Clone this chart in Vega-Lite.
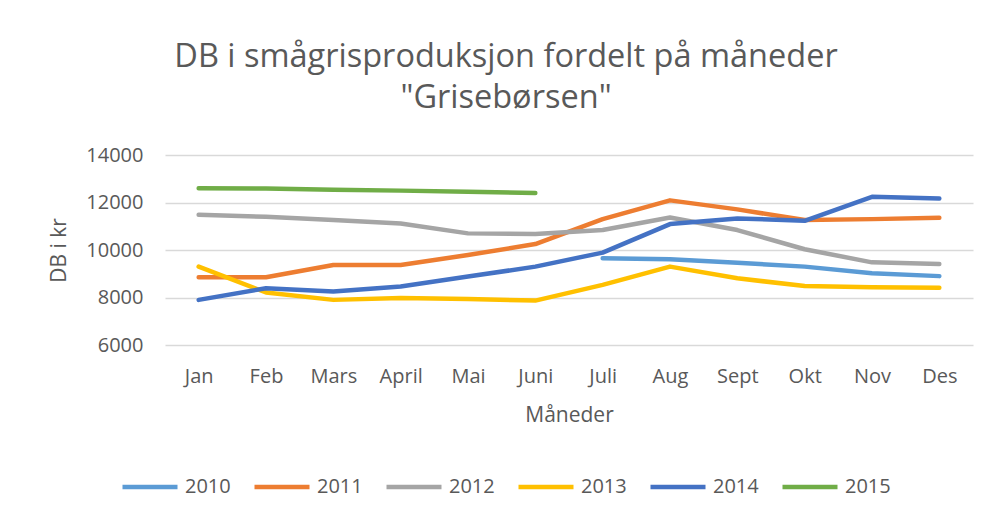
{
  "$schema": "https://vega.github.io/schema/vega-lite/v6.json",
  "autosize": {"type": "none"},
  "width": 808,
  "height": 190,
  "padding": {"left": 165, "top": 155, "right": 18, "bottom": 172},
  "background": "white",
  "config": {
    "font": "Open Sans",
    "view": {"stroke": null}
  },
  "title": {
    "text": ["DB i smågrisproduksjon fordelt på måneder", "\"Grisebørsen\""],
    "fontSize": 32.5,
    "font": "Open Sans",
    "fontWeight": "normal",
    "color": "#595959",
    "anchor": "middle",
    "dx": -63,
    "offset": 31,
    "lineHeight": 41
  },
  "data": {
    "values": [
      {"month": "Juli", "year": "2010", "value": 9650},
      {"month": "Aug", "year": "2010", "value": 9610},
      {"month": "Sept", "year": "2010", "value": 9460},
      {"month": "Okt", "year": "2010", "value": 9300},
      {"month": "Nov", "year": "2010", "value": 9020},
      {"month": "Des", "year": "2010", "value": 8900},

      {"month": "Jan", "year": "2011", "value": 8850},
      {"month": "Feb", "year": "2011", "value": 8850},
      {"month": "Mars", "year": "2011", "value": 9370},
      {"month": "April", "year": "2011", "value": 9370},
      {"month": "Mai", "year": "2011", "value": 9790},
      {"month": "Juni", "year": "2011", "value": 10250},
      {"month": "Juli", "year": "2011", "value": 11300},
      {"month": "Aug", "year": "2011", "value": 12090},
      {"month": "Sept", "year": "2011", "value": 11710},
      {"month": "Okt", "year": "2011", "value": 11260},
      {"month": "Nov", "year": "2011", "value": 11300},
      {"month": "Des", "year": "2011", "value": 11360},

      {"month": "Jan", "year": "2012", "value": 11480},
      {"month": "Feb", "year": "2012", "value": 11400},
      {"month": "Mars", "year": "2012", "value": 11260},
      {"month": "April", "year": "2012", "value": 11120},
      {"month": "Mai", "year": "2012", "value": 10700},
      {"month": "Juni", "year": "2012", "value": 10670},
      {"month": "Juli", "year": "2012", "value": 10840},
      {"month": "Aug", "year": "2012", "value": 11370},
      {"month": "Sept", "year": "2012", "value": 10840},
      {"month": "Okt", "year": "2012", "value": 10030},
      {"month": "Nov", "year": "2012", "value": 9480},
      {"month": "Des", "year": "2012", "value": 9410},

      {"month": "Jan", "year": "2013", "value": 9300},
      {"month": "Feb", "year": "2013", "value": 8210},
      {"month": "Mars", "year": "2013", "value": 7900},
      {"month": "April", "year": "2013", "value": 7980},
      {"month": "Mai", "year": "2013", "value": 7940},
      {"month": "Juni", "year": "2013", "value": 7870},
      {"month": "Juli", "year": "2013", "value": 8530},
      {"month": "Aug", "year": "2013", "value": 9300},
      {"month": "Sept", "year": "2013", "value": 8810},
      {"month": "Okt", "year": "2013", "value": 8480},
      {"month": "Nov", "year": "2013", "value": 8430},
      {"month": "Des", "year": "2013", "value": 8410},

      {"month": "Jan", "year": "2014", "value": 7900},
      {"month": "Feb", "year": "2014", "value": 8390},
      {"month": "Mars", "year": "2014", "value": 8250},
      {"month": "April", "year": "2014", "value": 8460},
      {"month": "Mai", "year": "2014", "value": 8880},
      {"month": "Juni", "year": "2014", "value": 9300},
      {"month": "Juli", "year": "2014", "value": 9890},
      {"month": "Aug", "year": "2014", "value": 11090},
      {"month": "Sept", "year": "2014", "value": 11330},
      {"month": "Okt", "year": "2014", "value": 11230},
      {"month": "Nov", "year": "2014", "value": 12240},
      {"month": "Des", "year": "2014", "value": 12170},

      {"month": "Jan", "year": "2015", "value": 12600},
      {"month": "Feb", "year": "2015", "value": 12590},
      {"month": "Mars", "year": "2015", "value": 12540},
      {"month": "April", "year": "2015", "value": 12500},
      {"month": "Mai", "year": "2015", "value": 12450},
      {"month": "Juni", "year": "2015", "value": 12400}
    ]
  },
  "mark": {"type": "line", "strokeWidth": 4.5, "strokeCap": "round", "strokeJoin": "round"},
  "encoding": {
    "x": {
      "field": "month",
      "type": "ordinal",
      "sort": ["Jan", "Feb", "Mars", "April", "Mai", "Juni", "Juli", "Aug", "Sept", "Okt", "Nov", "Des"],
      "scale": {"type": "point", "padding": 0.5},
      "axis": {
        "title": "Måneder",
        "titleFont": "Open Sans",
        "titleFontSize": 21,
        "titleFontWeight": "normal",
        "titleColor": "#595959",
        "titlePadding": 18,
        "labelFont": "Open Sans",
        "labelFontSize": 20,
        "labelColor": "#595959",
        "labelAngle": 0,
        "labelPadding": 21,
        "domain": false,
        "ticks": false,
        "grid": false
      }
    },
    "y": {
      "field": "value",
      "type": "quantitative",
      "scale": {"domain": [6000, 14000], "nice": false, "zero": false},
      "axis": {
        "title": "DB i kr",
        "titleFont": "Open Sans",
        "titleFontSize": 21,
        "titleFontWeight": "normal",
        "titleColor": "#595959",
        "titlePadding": 16,
        "values": [6000, 8000, 10000, 12000, 14000],
        "format": "d",
        "labelFont": "Open Sans",
        "labelFontSize": 20,
        "labelColor": "#595959",
        "labelPadding": 22,
        "domain": false,
        "ticks": false,
        "grid": true,
        "gridColor": "#d9d9d9",
        "gridWidth": 1.3
      }
    },
    "color": {
      "field": "year",
      "type": "nominal",
      "scale": {
        "domain": ["2010", "2011", "2012", "2013", "2014", "2015"],
        "range": ["#5b9bd5", "#ed7d31", "#a5a5a5", "#ffc000", "#4472c4", "#70ad47"]
      },
      "legend": {
        "title": null,
        "orient": "none",
        "direction": "horizontal",
        "legendX": -45,
        "legendY": 302,
        "padding": 0,
        "symbolType": "stroke",
        "symbolSize": 3025,
        "symbolStrokeWidth": 4.5,
        "labelFont": "Open Sans",
        "labelFontSize": 20,
        "labelColor": "#595959",
        "labelOffset": 5,
        "columnPadding": 14
      }
    }
  }
}
